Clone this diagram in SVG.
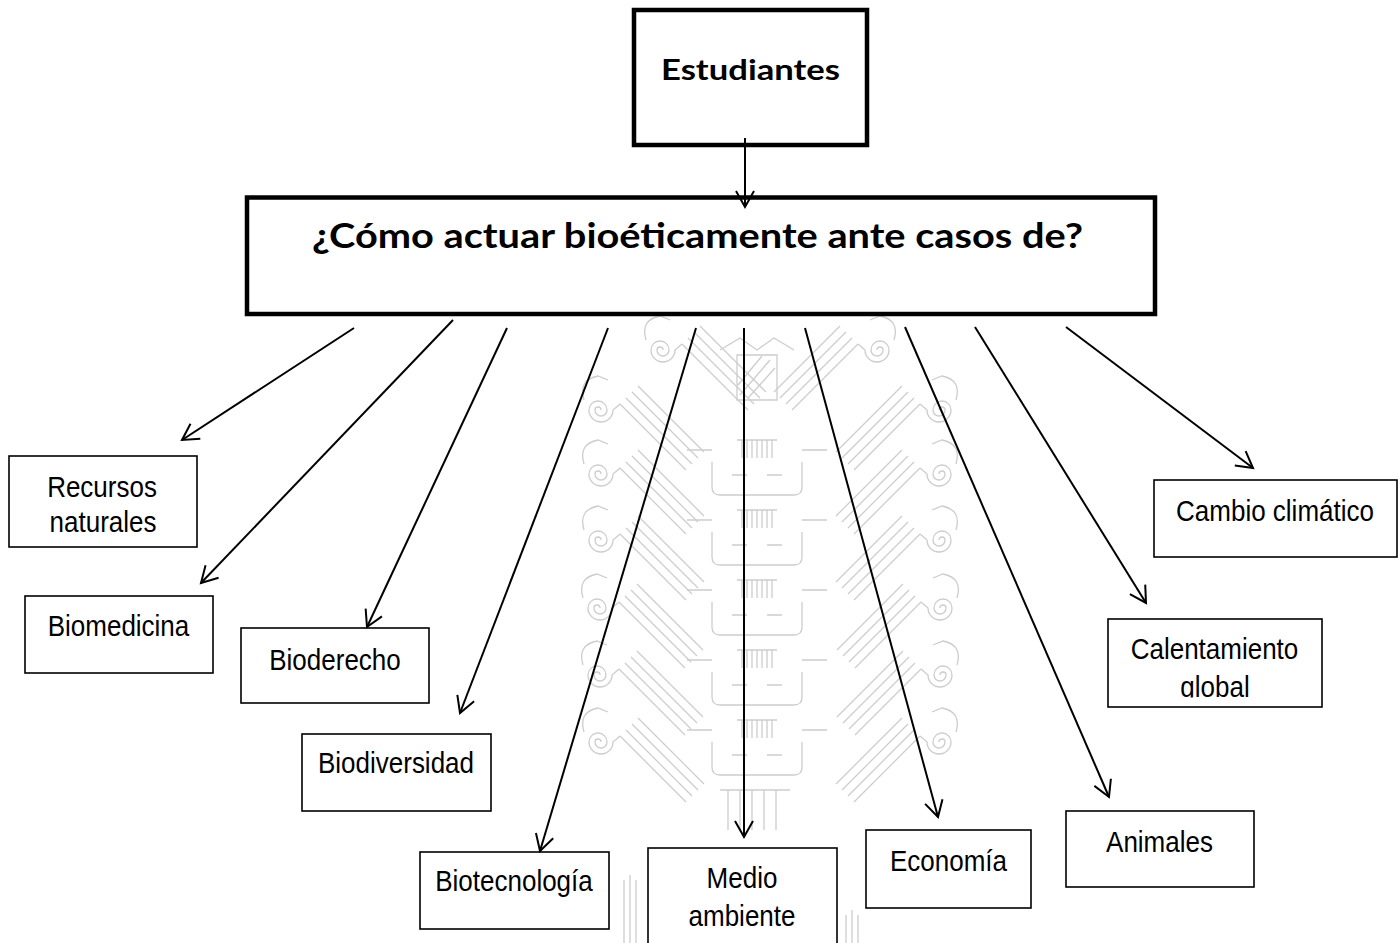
<svg xmlns="http://www.w3.org/2000/svg" xmlns:xlink="http://www.w3.org/1999/xlink" width="1398" height="943" viewBox="0 0 1398 943">
<style>
.bg{fill:#ffffff}
.wm{fill:none;stroke:#cdcdcd;stroke-width:1.3}
.box{fill:#ffffff;stroke:#000000;stroke-width:1.6}
.tbox{fill:#ffffff;stroke:#000000;stroke-width:4.5}
.lbl{font-family:"Liberation Sans",Arial,sans-serif;font-size:26px;fill:#000000;text-anchor:middle}
.ttl{font-family:Lato,"Open Sans",sans-serif;font-weight:bold;fill:#000000;text-anchor:middle}
.con{fill:none;stroke:#000000;stroke-width:2;marker-end:url(#ah)}
</style>
<defs>
<marker id="ah" markerUnits="userSpaceOnUse" markerWidth="24" markerHeight="24" viewBox="-20 -12 24 24" refX="0" refY="0" orient="auto">
<path d="M-16,-9 L0,0 L-16,9" fill="none" stroke="#000000" stroke-width="2"/>
</marker>
<g id="wmUnit">
<path d="M3,0 A3,3 0 0 0 -3,0 A6,6 0 0 0 9,0 A9,9 0 0 0 -9,0 A12,12 0 0 0 15,0 L22,-6"/>
<path d="M22,-6 L88,60 M28,-12 L94,54 M34,-18 L100,48 M40,-24 L106,42"/>
<path d="M-14,-10 Q-20,-30 0,-34 L10,-30"/>
</g>
<g id="wmMod">
<path d="M-20,0 H20 M-15,0 V18 M-10,0 V18 M-5,0 V18 M0,0 V18 M5,0 V18 M10,0 V18 M15,0 V18"/>
<path d="M-45,22 V47 Q-45,55 -37,55 H37 Q45,55 45,47 V22"/>
<path d="M-25,35 H-10 M10,35 H25 M-70,10 H-45 M45,10 H70"/>
</g>
<clipPath id="clipGlobal"><rect x="1100" y="600" width="230" height="97.5"/></clipPath>
</defs>
<rect class="bg" x="0" y="0" width="1398" height="943"/>
<g id="watermark" class="wm">
<use xlink:href="#wmUnit" transform="translate(598,410)"/>
<use xlink:href="#wmUnit" transform="translate(598,474)"/>
<use xlink:href="#wmUnit" transform="translate(598,540)"/>
<use xlink:href="#wmUnit" transform="translate(597,608)"/>
<use xlink:href="#wmUnit" transform="translate(597,675)"/>
<use xlink:href="#wmUnit" transform="translate(598,742)"/>
<use xlink:href="#wmUnit" transform="translate(660,350)"/>
<g transform="translate(1540,0) scale(-1,1)">
<use xlink:href="#wmUnit" transform="translate(598,410)"/>
<use xlink:href="#wmUnit" transform="translate(598,474)"/>
<use xlink:href="#wmUnit" transform="translate(598,540)"/>
<use xlink:href="#wmUnit" transform="translate(597,608)"/>
<use xlink:href="#wmUnit" transform="translate(597,675)"/>
<use xlink:href="#wmUnit" transform="translate(598,742)"/>
<use xlink:href="#wmUnit" transform="translate(660,350)"/>
</g>
<use xlink:href="#wmMod" transform="translate(757,440)"/>
<use xlink:href="#wmMod" transform="translate(757,510)"/>
<use xlink:href="#wmMod" transform="translate(757,580)"/>
<use xlink:href="#wmMod" transform="translate(757,650)"/>
<use xlink:href="#wmMod" transform="translate(757,720)"/>
<path d="M720,350 L740,338 L757,350 L774,338 L794,350 M737,355 H777 V400 H737 Z M740,395 L770,360 M748,398 L775,368 M738,385 L762,356"/>
<path d="M728,790 V830 M740,790 V830 M752,790 V830 M764,790 V830 M776,790 V830 M720,790 H790"/>
<path d="M624,880 V943 M630,875 V943 M636,880 V943 M846,915 V943 M852,910 V943 M858,915 V943"/>
</g>
<g id="n-estudiantes">
<rect class="tbox" x="634" y="10" width="233" height="135"/>
<text class="ttl" x="750.5" y="80" font-size="28" textLength="179" lengthAdjust="spacingAndGlyphs">Estudiantes</text>
</g>
<g id="n-pregunta">
<rect class="tbox" x="247" y="197.5" width="908" height="116.5"/>
<text class="ttl" x="697.5" y="248" font-size="35" textLength="771" lengthAdjust="spacingAndGlyphs">¿Cómo actuar bioéticamente ante casos de?</text>
</g>
<g id="n-recursos">
<rect class="box" x="9" y="456" width="188" height="91"/>
<text class="lbl" transform="translate(102,497) scale(1,1.16)">Recursos</text>
<text class="lbl" transform="translate(103,532) scale(1,1.16)">naturales</text>
</g>
<g id="n-biomedicina">
<rect class="box" x="25" y="596" width="188" height="77"/>
<text class="lbl" transform="translate(118.5,636) scale(1,1.16)">Biomedicina</text>
</g>
<g id="n-bioderecho">
<rect class="box" x="241" y="628" width="188" height="75"/>
<text class="lbl" transform="translate(335,670) scale(1,1.16)">Bioderecho</text>
</g>
<g id="n-biodiversidad">
<rect class="box" x="302" y="734" width="189" height="77"/>
<text class="lbl" transform="translate(396,773) scale(1,1.16)">Biodiversidad</text>
</g>
<g id="n-biotecnologia">
<rect class="box" x="420" y="852" width="189" height="77"/>
<text class="lbl" transform="translate(514,891) scale(1,1.16)">Biotecnología</text>
</g>
<g id="n-medio">
<rect class="box" x="648" y="848" width="189" height="120"/>
<text class="lbl" transform="translate(742,888) scale(1,1.16)">Medio</text>
<text class="lbl" transform="translate(742,926) scale(1,1.16)">ambiente</text>
</g>
<g id="n-economia">
<rect class="box" x="866" y="830" width="165" height="78"/>
<text class="lbl" transform="translate(948.5,871) scale(1,1.16)">Economía</text>
</g>
<g id="n-animales">
<rect class="box" x="1066" y="811" width="188" height="76"/>
<text class="lbl" transform="translate(1159.5,852) scale(1,1.16)">Animales</text>
</g>
<g id="n-calentamiento">
<rect class="box" x="1108" y="619" width="214" height="88"/>
<text class="lbl" transform="translate(1214.5,659) scale(1,1.16)">Calentamiento</text>
<g clip-path="url(#clipGlobal)">
<text class="lbl" transform="translate(1215,697) scale(1,1.16)">global</text>
</g>
</g>
<g id="n-cambio">
<rect class="box" x="1154" y="480" width="243" height="77"/>
<text class="lbl" transform="translate(1275,521) scale(1,1.16)">Cambio climático</text>
</g>
<g id="connectors">
<line class="con" x1="745" y1="138" x2="745" y2="207"/>
<line class="con" x1="354" y1="328" x2="182" y2="440"/>
<line class="con" x1="453" y1="320" x2="201" y2="583"/>
<line class="con" x1="507" y1="328" x2="367" y2="627"/>
<line class="con" x1="608" y1="328" x2="460" y2="713"/>
<line class="con" x1="696" y1="328" x2="540" y2="851"/>
<line class="con" x1="744" y1="328" x2="744" y2="837"/>
<line class="con" x1="805" y1="328" x2="938" y2="817"/>
<line class="con" x1="905" y1="327" x2="1109" y2="797"/>
<line class="con" x1="975" y1="327" x2="1146" y2="603"/>
<line class="con" x1="1066" y1="327" x2="1253" y2="468"/>
</g>
</svg>
